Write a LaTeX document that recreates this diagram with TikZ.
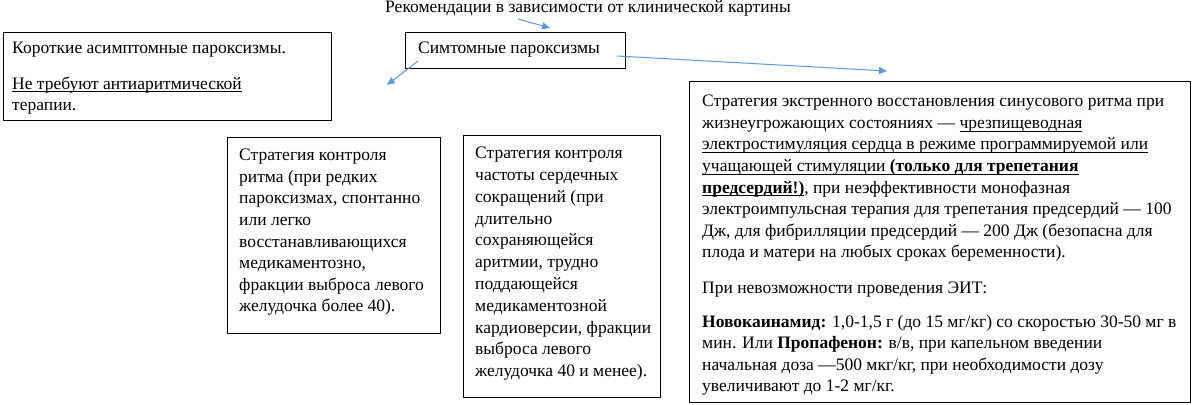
\documentclass[tikz,border=0pt]{standalone}
\usepackage{fontspec}
\setmainfont{Liberation Serif}
\newfontfamily\timesru{Liberation Serif}
\usetikzlibrary{arrows.meta,calc}
\definecolor{arrowblue}{RGB}{91,155,213}
\newcommand\myul[1]{\setbox0=\hbox{#1}\rlap{\rule[-3pt]{\wd0}{0.8pt}}\box0}
\begin{document}
\begin{tikzpicture}[x=1pt,y=-1pt,
  box/.style={draw=black, line width=1pt, anchor=north west, inner sep=0pt},
  txt/.style={anchor=north west, inner sep=0pt, align=left, font=\timesru\fontsize{17.5}{21.6}\selectfont},
  conn/.style={draw=arrowblue, line width=1pt, -{Triangle[length=8pt,width=7pt]}}]
\useasboundingbox (0,0) rectangle (1193,404);

% title
\node[txt, anchor=base] (title) at (588,13) {Рекомендации в зависимости от клинической картины};

% boxes
\node[box, minimum width=328pt, minimum height=88pt] (lb) at (3,32) {};
\node[box, minimum width=220pt, minimum height=36pt] (sym) at (405,32) {};
\node[box, minimum width=213pt, minimum height=196pt] (b1) at (227,137) {};
\node[box, minimum width=197pt, minimum height=262pt] (b2) at (463,135) {};
\node[box, minimum width=501pt, minimum height=321pt] (big) at (689,81) {};

% texts
\node[txt] (lbt) at ($(lb.north west)+(9,10)$) {Короткие асимптомные пароксизмы.\\[14pt]
\myul{Не требуют антиаритмической}\\
терапии.};

\node[txt] (symt) at ($(sym.north west)+(13,10)$) {Симтомные пароксизмы};

\node[txt] (b1t) at ($(b1.north west)+(12,12)$) {Стратегия контроля\\
ритма (при редких\\
пароксизмах, спонтанно\\
или легко\\
восстанавливающихся\\
медикаментозно,\\
фракции выброса левого\\
желудочка более 40).};

\node[txt, font=\timesru\fontsize{17.5}{21.8}\selectfont] (b2t) at ($(b2.north west)+(12,12)$) {Стратегия контроля\\
частоты сердечных\\
сокращений (при\\
длительно\\
сохраняющейся\\
аритмии, трудно\\
поддающейся\\
медикаментозной\\
кардиоверсии, фракции\\
выброса левого\\
желудочка 40 и менее).};

\node[txt] (bigt) at ($(big.north west)+(13,14)$) {Стратегия экстренного восстановления синусового ритма при\\
жизнеугрожающих состояниях — \myul{чрезпищеводная}\\
\myul{электростимуляция сердца в режиме программируемой или}\\
\myul{учащающей стимуляции \textbf{(только для трепетания}}\\
\myul{\textbf{предсердий!)}}, при неэффективности монофазная\\
электроимпульсная терапия для трепетания предсердий — 100\\
Дж, для фибрилляции предсердий — 200 Дж (безопасна для\\
плода и матери на любых сроках беременности).\\[14pt]
При невозможности проведения ЭИТ:\\[12pt]
\textbf{Новокаинамид:} 1,0-1,5 г (до 15 мг/кг) со скоростью 30-50 мг в\\
мин. Или \textbf{Пропафенон:} в/в, при капельном введении\\
начальная доза —500 мкг/кг, при необходимости дозу\\
увеличивают до 1-2 мг/кг.};

% connectors
\coordinate (a1s) at (518,19);
\coordinate (a1e) at (550,28);
\coordinate (a2s) at (418,61);
\coordinate (a2e) at (387,85);
\coordinate (a3s) at (617,56);
\coordinate (a3e) at (887,71);
\draw[conn] (a1s) -- (a1e);
\draw[conn] (a2s) -- (a2e);
\draw[conn] (a3s) -- (a3e);
\end{tikzpicture}
\end{document}
